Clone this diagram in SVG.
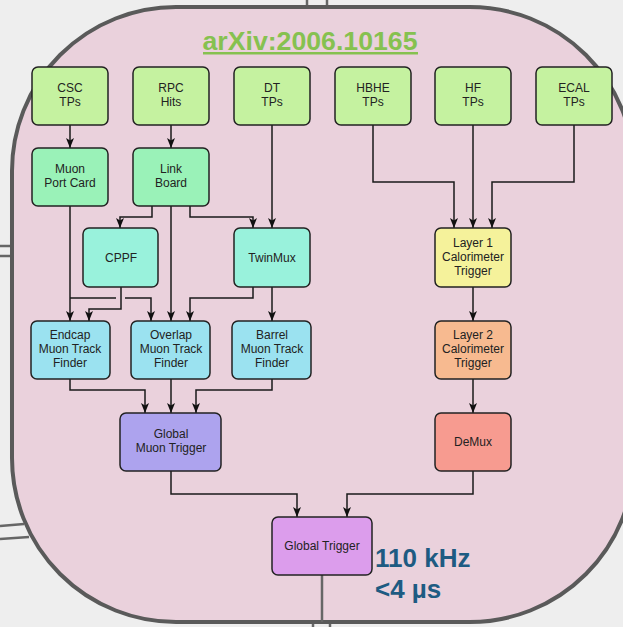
<svg xmlns="http://www.w3.org/2000/svg" width="623" height="627" viewBox="0 0 623 627">
<style>
.n rect{stroke:#222;stroke-width:1.5}
.n text{font-family:"Liberation Sans",Arial,sans-serif;font-size:12px;fill:#222;text-anchor:middle}
.c path{fill:none;stroke:#1a1a1a;stroke-width:1.5}
.o{stroke:#666;stroke-width:2.5;fill:none}
.big{font-family:"Liberation Sans",Arial,sans-serif;font-weight:bold;font-size:26px;fill:#1e5b82}
</style>
<defs>
<marker id="ah" markerUnits="userSpaceOnUse" markerWidth="10" markerHeight="10" viewBox="0 0 10 10" refX="10" refY="5" orient="auto">
<path d="M0,1 L10,5 L0,9 L2.5,5 Z" fill="#111"/>
</marker>
</defs>
<rect width="623" height="627" fill="#eeeeee"/>
<g id="outer">
<line class="o" x1="307" y1="0" x2="307" y2="8" stroke="#555"/>
<line class="o" x1="327" y1="0" x2="327" y2="8" stroke="#555"/>
<line class="o" x1="0" y1="246" x2="12" y2="246" stroke="#777" stroke-width="2"/>
<line class="o" x1="0" y1="256" x2="12" y2="256" stroke="#777" stroke-width="2"/>
<line class="o" x1="0" y1="526" x2="24" y2="524" stroke="#777" stroke-width="2"/>
<line class="o" x1="0" y1="539" x2="29" y2="537" stroke="#777" stroke-width="2"/>
<line class="o" x1="313" y1="622" x2="313" y2="627" stroke="#555" stroke-width="2"/>
<line class="o" x1="330" y1="622" x2="330" y2="627" stroke="#555" stroke-width="2"/>
<rect x="12" y="7" width="622" height="615" rx="164" ry="164" fill="#ead1dc" stroke="#5a5a5a" stroke-width="4"/>
<line class="o" x1="322" y1="575" x2="322" y2="622"/>
</g>
<g id="title">
<text x="310" y="50" text-anchor="middle" font-family="'Liberation Sans',Arial,sans-serif" font-weight="bold" font-size="26" fill="#86c150" textLength="215" lengthAdjust="spacingAndGlyphs">arXiv:2006.10165</text>
<rect x="203" y="52" width="215" height="2.5" fill="#86c150"/>
</g>
<g class="c" id="connectors">
<path d="M70,125 V148" marker-end="url(#ah)"/>
<path d="M171,125 V148" marker-end="url(#ah)"/>
<path d="M272,125 V228" marker-end="url(#ah)"/>
<path d="M152,206 V217 H120 V228" marker-end="url(#ah)"/>
<path d="M171,206 V321" marker-end="url(#ah)"/>
<path d="M190,206 V217 H253 V228" marker-end="url(#ah)"/>
<path d="M70,206 V321" marker-end="url(#ah)"/>
<path d="M70,298 H116"/>
<path d="M125,298 H151 V321" marker-end="url(#ah)"/>
<path d="M121,287 V309 H89 V321" marker-end="url(#ah)"/>
<path d="M253,287 V298 H190 V321" marker-end="url(#ah)"/>
<path d="M272,287 V321" marker-end="url(#ah)"/>
<path d="M70,379 V390 H145 V413" marker-end="url(#ah)"/>
<path d="M171,379 V413" marker-end="url(#ah)"/>
<path d="M272,379 V390 H196 V413" marker-end="url(#ah)"/>
<path d="M171,471 V494 H297 V517" marker-end="url(#ah)"/>
<path d="M473,471 V494 H347 V517" marker-end="url(#ah)"/>
<path d="M373,125 V182 H454 V228" marker-end="url(#ah)"/>
<path d="M473,125 V228" marker-end="url(#ah)"/>
<path d="M574,125 V182 H492 V228" marker-end="url(#ah)"/>
<path d="M473,287 V321" marker-end="url(#ah)"/>
<path d="M473,379 V413" marker-end="url(#ah)"/>
</g>
<g class="n" id="csc"><rect x="32" y="67" width="76" height="58" rx="6" fill="#c5f2a0"/><text x="70" y="92">CSC</text><text x="70" y="106">TPs</text></g>
<g class="n" id="rpc"><rect x="133" y="67" width="76" height="58" rx="6" fill="#c5f2a0"/><text x="171" y="92">RPC</text><text x="171" y="106">Hits</text></g>
<g class="n" id="dt"><rect x="234" y="67" width="76" height="58" rx="6" fill="#c5f2a0"/><text x="272" y="92">DT</text><text x="272" y="106">TPs</text></g>
<g class="n" id="hbhe"><rect x="335" y="67" width="76" height="58" rx="6" fill="#c5f2a0"/><text x="373" y="92">HBHE</text><text x="373" y="106">TPs</text></g>
<g class="n" id="hf"><rect x="435" y="67" width="76" height="58" rx="6" fill="#c5f2a0"/><text x="473" y="92">HF</text><text x="473" y="106">TPs</text></g>
<g class="n" id="ecal"><rect x="536" y="67" width="76" height="58" rx="6" fill="#c5f2a0"/><text x="574" y="92">ECAL</text><text x="574" y="106">TPs</text></g>
<g class="n" id="mpc"><rect x="32" y="148" width="76" height="58" rx="6" fill="#9af2b8"/><text x="70" y="173">Muon</text><text x="70" y="187">Port Card</text></g>
<g class="n" id="lb"><rect x="133" y="148" width="76" height="58" rx="6" fill="#9af2b8"/><text x="171" y="173">Link</text><text x="171" y="187">Board</text></g>
<g class="n" id="cppf"><rect x="83" y="228" width="75" height="59" rx="6" fill="#99f2dc"/><text x="121" y="262">CPPF</text></g>
<g class="n" id="twinmux"><rect x="234" y="228" width="76" height="59" rx="6" fill="#99f2dc"/><text x="272" y="262">TwinMux</text></g>
<g class="n" id="l1"><rect x="435" y="228" width="76" height="59" rx="6" fill="#f5f29b"/><text x="473" y="247">Layer 1</text><text x="473" y="261">Calorimeter</text><text x="473" y="275">Trigger</text></g>
<g class="n" id="emtf"><rect x="31" y="321" width="79" height="58" rx="6" fill="#9be2f0"/><text x="70" y="339">Endcap</text><text x="70" y="353">Muon Track</text><text x="70" y="367">Finder</text></g>
<g class="n" id="omtf"><rect x="131" y="321" width="79" height="58" rx="6" fill="#9be2f0"/><text x="171" y="339">Overlap</text><text x="171" y="353">Muon Track</text><text x="171" y="367">Finder</text></g>
<g class="n" id="bmtf"><rect x="232" y="321" width="79" height="58" rx="6" fill="#9be2f0"/><text x="272" y="339">Barrel</text><text x="272" y="353">Muon Track</text><text x="272" y="367">Finder</text></g>
<g class="n" id="l2"><rect x="435" y="321" width="76" height="58" rx="6" fill="#f7ba90"/><text x="473" y="339">Layer 2</text><text x="473" y="353">Calorimeter</text><text x="473" y="367">Trigger</text></g>
<g class="n" id="gmt"><rect x="120" y="413" width="101" height="58" rx="6" fill="#ada3ee"/><text x="171" y="438">Global</text><text x="171" y="452">Muon Trigger</text></g>
<g class="n" id="demux"><rect x="435" y="413" width="76" height="58" rx="6" fill="#f79b90"/><text x="473" y="446">DeMux</text></g>
<g class="n" id="gt"><rect x="272" y="517" width="100" height="58" rx="6" fill="#dc9dec"/><text x="322" y="550">Global Trigger</text></g>
<g id="labels">
<text class="big" x="375" y="567">110 kHz</text>
<text class="big" x="375" y="598">&lt;4 µs</text>
</g>
</svg>
